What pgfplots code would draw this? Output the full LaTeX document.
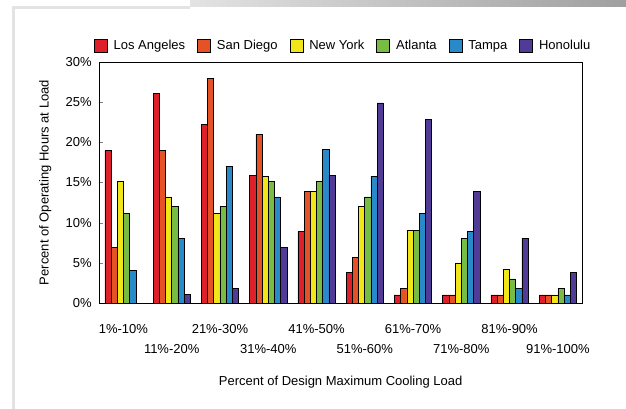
\documentclass[border=0pt]{standalone}
\usepackage{pgfplots}
\pgfplotsset{compat=1.18}
\usepackage{pgfplotstable}
\usepackage{fontspec}
\setmainfont{Liberation Sans}

\definecolor{cLA}{RGB}{222,32,42}
\definecolor{cSD}{RGB}{228,82,38}
\definecolor{cNY}{RGB}{240,230,25}
\definecolor{cAT}{RGB}{120,188,68}
\definecolor{cTA}{RGB}{40,138,200}
\definecolor{cHO}{RGB}{80,60,150}
\newcommand\fs{\fontsize{13}{15}\selectfont}

% percent of operating hours, one row per load band
\pgfplotstableread{
x la   sd   ny   at   ta   ho
0 19   6.9  15.1 11.2 4.1  nan
1 26.1 19   13.2 12   8    1.1
2 22.2 28   11.2 12   17   1.8
3 15.9 21   15.8 15.1 13.1 6.9
4 8.9  13.9 13.9 15.1 19.1 15.9
5 3.8  5.7  12   13.2 15.8 24.9
6 1    1.8  9    9    11.2 22.9
7 1    1    5    8    8.9  13.9
8 1    1    4.2  3    1.8  8
9 1    1    1    1.8  1    3.8
}\loadtable

\begin{document}
\begin{tikzpicture}
\useasboundingbox (0pt,0pt) rectangle (626pt,409pt);
\fill[white] (0pt,0pt) rectangle (626pt,409pt);
\shade[left color=gray!22, right color=gray!75] (190pt,402pt) rectangle (626pt,409pt);
\draw[gray!22, line width=3pt] (13.5pt,0pt) -- (13.5pt,401.5pt) -- (190pt,401.5pt);
\begin{axis}[
  at={(99.3pt,106pt)}, anchor=south west,
  scale only axis, width=482.7pt, height=241pt,
  ybar=0pt, bar width=6.2pt,
  xmin=-0.5, xmax=9.5, ymin=0, ymax=30,
  enlargelimits=false,
  axis line style={line width=0.9pt},
  ytick={0,5,...,30},
  yticklabel={\pgfmathprintnumber{\tick}\%},
  ytick pos=left, tick align=inside, major tick length=4pt,
  yticklabel style={xshift=-4pt},
  /pgf/number format/assume math mode=true,
  tick label style={font=\fs},
  xtick={0,2,4,6,8},
  xticklabels={1\%-10\%,21\%-30\%,41\%-50\%,61\%-70\%,81\%-90\%},
  extra x ticks={1,3,5,7,9},
  extra x tick labels={11\%-20\%,31\%-40\%,51\%-60\%,71\%-80\%,91\%-100\%},
  xtick style={draw=none},
  xticklabel style={anchor=center, yshift=-26pt},
  extra x tick style={xticklabel style={yshift=-20pt}, tick style={draw=none}},
  every axis x label/.style={at={(axis description cs:0.5,-0.328)}, anchor=center, font=\fs},
  every axis y label/.style={at={(axis description cs:-0.1119,0.5)}, rotate=90, anchor=center, font=\fs},
  xlabel={Percent of Design Maximum Cooling Load},
  ylabel={Percent of Operating Hours at Load},
  legend style={at={(0.5,1)}, anchor=center, yshift=16.5pt, xshift=2.5pt,
    draw=none, fill=none, inner sep=0pt, font=\fs,
    legend columns=-1,
    /tikz/every odd column/.append style={column sep=4pt},
    /tikz/every even column/.append style={column sep=10pt}},
  legend image code/.code={\draw[#1,/tikz/.cd,line width=0.7pt] (0pt,-6.5pt) rectangle (13pt,6.5pt);},
]
\addplot[fill=cLA, draw=black, line width=0.6pt] table[x=x,y=la]{\loadtable};
\addplot[fill=cSD, draw=black, line width=0.6pt] table[x=x,y=sd]{\loadtable};
\addplot[fill=cNY, draw=black, line width=0.6pt] table[x=x,y=ny]{\loadtable};
\addplot[fill=cAT, draw=black, line width=0.6pt] table[x=x,y=at]{\loadtable};
\addplot[fill=cTA, draw=black, line width=0.6pt] table[x=x,y=ta]{\loadtable};
\addplot[fill=cHO, draw=black, line width=0.6pt] table[x=x,y=ho]{\loadtable};
\legend{Los Angeles, San Diego, New York, Atlanta, Tampa, Honolulu}
\end{axis}
\end{tikzpicture}
\end{document}
